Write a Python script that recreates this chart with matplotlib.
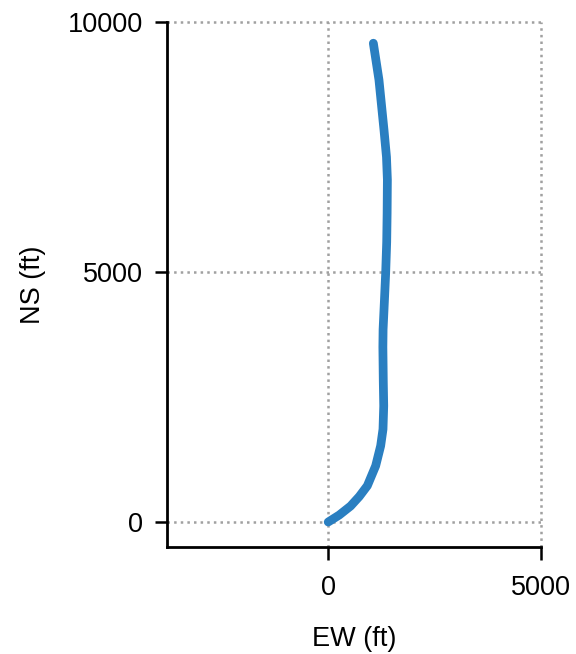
import matplotlib
matplotlib.use("Agg")
import matplotlib.pyplot as plt

# well trajectory, plan view (ft)
ew = [0, 260, 526, 730, 920, 1116, 1233, 1288, 1305, 1295, 1285, 1290, 1320, 1351, 1375, 1385, 1391, 1370, 1311, 1193, 1061]
ns = [0, 140, 319, 510, 725, 1124, 1523, 1856, 2321, 2800, 3500, 3850, 4400, 4984, 5600, 6182, 6846, 7300, 7844, 8842, 9575]

x_ticks = [0, 5000]
y_ticks = [0, 5000, 10000]

plt.rcParams["font.family"] = ["Liberation Sans", "DejaVu Sans"]

fig = plt.figure(figsize=(5.76, 6.54), dpi=100)
ax = fig.add_axes([0.290, 0.1636, 0.649, 0.8028])

ax.plot(ew, ns, color="#2a7fc1", lw=6.3, solid_capstyle="round", solid_joinstyle="round", zorder=3)

ax.set_xlim(-3790, 5000)
ax.set_ylim(-500, 10000)
ax.set_xticks(x_ticks)
ax.set_yticks(y_ticks)
ax.grid(True, linestyle=":", color="#a0a0a0", lw=1.8, clip_on=False)

for side in ("top", "right"):
    ax.spines[side].set_visible(False)
for side in ("left", "bottom"):
    ax.spines[side].set_linewidth(2.0)

ax.tick_params(direction="out", length=9, width=1.8, labelsize=19.5, pad=8)
ax.tick_params(axis="x", pad=11)
ax.set_xlabel("EW (ft)", fontsize=19.5, labelpad=18)
ax.set_ylabel("NS (ft)", fontsize=19.5, labelpad=16)

fig.savefig("out.png", dpi=100)
